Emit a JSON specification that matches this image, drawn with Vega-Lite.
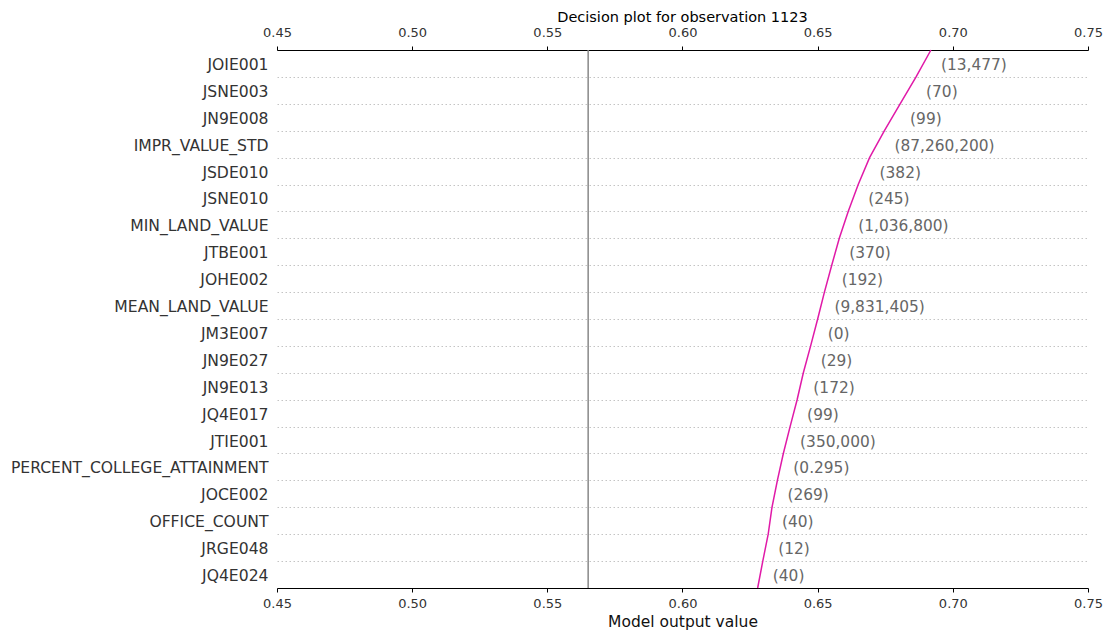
{
  "$schema": "https://vega.github.io/schema/vega-lite/v6.json",
  "width": 811,
  "height": 538,
  "autosize": {"type": "none"},
  "padding": {"left": 277, "top": 50, "right": 20, "bottom": 46},
  "background": "white",
  "config": {
    "view": {"stroke": null},
    "font": "DejaVu Sans",
    "axis": {"labelFont": "DejaVu Sans", "titleFont": "DejaVu Sans"}
  },
  "title": {
    "text": "Decision plot for observation 1123",
    "fontSize": 14.5,
    "fontWeight": "normal",
    "color": "#000000",
    "font": "DejaVu Sans",
    "offset": 1
  },
  "datasets": {
    "base": [{"base": 0.5651}],
    "path": [
      {"pos": 0, "value": 0.6278},
      {"pos": 1, "value": 0.6297},
      {"pos": 2, "value": 0.6317},
      {"pos": 3, "value": 0.6331},
      {"pos": 4, "value": 0.6351},
      {"pos": 5, "value": 0.6373},
      {"pos": 6, "value": 0.6398},
      {"pos": 7, "value": 0.6424},
      {"pos": 8, "value": 0.6447},
      {"pos": 9, "value": 0.6474},
      {"pos": 10, "value": 0.6500},
      {"pos": 11, "value": 0.6525},
      {"pos": 12, "value": 0.6552},
      {"pos": 13, "value": 0.6580},
      {"pos": 14, "value": 0.6613},
      {"pos": 15, "value": 0.6650},
      {"pos": 16, "value": 0.6692},
      {"pos": 17, "value": 0.6747},
      {"pos": 18, "value": 0.6805},
      {"pos": 19, "value": 0.6864},
      {"pos": 20, "value": 0.6919}
    ],
    "features": [
      {"pos": 20, "feature": "JOIE001", "label": "(13,477)", "value": 0.6919},
      {"pos": 19, "feature": "JSNE003", "label": "(70)", "value": 0.6864},
      {"pos": 18, "feature": "JN9E008", "label": "(99)", "value": 0.6805},
      {"pos": 17, "feature": "IMPR_VALUE_STD", "label": "(87,260,200)", "value": 0.6747},
      {"pos": 16, "feature": "JSDE010", "label": "(382)", "value": 0.6692},
      {"pos": 15, "feature": "JSNE010", "label": "(245)", "value": 0.6650},
      {"pos": 14, "feature": "MIN_LAND_VALUE", "label": "(1,036,800)", "value": 0.6613},
      {"pos": 13, "feature": "JTBE001", "label": "(370)", "value": 0.6580},
      {"pos": 12, "feature": "JOHE002", "label": "(192)", "value": 0.6552},
      {"pos": 11, "feature": "MEAN_LAND_VALUE", "label": "(9,831,405)", "value": 0.6525},
      {"pos": 10, "feature": "JM3E007", "label": "(0)", "value": 0.6500},
      {"pos": 9, "feature": "JN9E027", "label": "(29)", "value": 0.6474},
      {"pos": 8, "feature": "JN9E013", "label": "(172)", "value": 0.6447},
      {"pos": 7, "feature": "JQ4E017", "label": "(99)", "value": 0.6424},
      {"pos": 6, "feature": "JTIE001", "label": "(350,000)", "value": 0.6398},
      {"pos": 5, "feature": "PERCENT_COLLEGE_ATTAINMENT", "label": "(0.295)", "value": 0.6373},
      {"pos": 4, "feature": "JOCE002", "label": "(269)", "value": 0.6351},
      {"pos": 3, "feature": "OFFICE_COUNT", "label": "(40)", "value": 0.6331},
      {"pos": 2, "feature": "JRGE048", "label": "(12)", "value": 0.6317},
      {"pos": 1, "feature": "JQ4E024", "label": "(40)", "value": 0.6297}
    ]
  },
  "layer": [
    {
      "data": {"name": "features"},
      "mark": {"type": "text", "align": "left", "baseline": "middle", "dx": 10, "dy": 1.5, "fontSize": 15.4, "color": "#666666", "font": "DejaVu Sans"},
      "encoding": {
        "y": {
          "field": "feature",
          "type": "nominal",
          "sort": {"field": "pos", "order": "descending"},
          "scale": {"paddingInner": 0, "paddingOuter": 0},
          "axis": {
            "title": null,
            "domain": false,
            "ticks": false,
            "tickBand": "extent",
            "grid": true,
            "gridColor": "#c4c4c4",
            "gridDash": [1.5, 2.5],
            "gridWidth": 1,
            "labelFontSize": 15.6,
            "labelColor": "#333333",
            "labelPadding": 9,
            "labelOffset": 1,
            "labelLimit": 0
          }
        },
        "x": {
          "field": "value",
          "type": "quantitative",
          "scale": {"domain": [0.45, 0.75], "nice": false, "zero": false},
          "axis": {
            "orient": "bottom",
            "values": [0.45, 0.5, 0.55, 0.6, 0.65, 0.7, 0.75],
            "format": ".2f",
            "grid": false,
            "labelFlush": false,
            "domainColor": "#000000",
            "domainWidth": 1,
            "tickColor": "#000000",
            "tickSize": 4,
            "labelFontSize": 13,
            "labelColor": "#333333",
            "labelPadding": 5,
            "title": "Model output value",
            "titleFontSize": 15.5,
            "titleFontWeight": "normal",
            "titleColor": "#111111",
            "titlePadding": 4
          }
        },
        "text": {"field": "label"}
      }
    },
    {
      "data": {"name": "base"},
      "mark": {"type": "rule", "color": "#888888", "strokeWidth": 1.5},
      "encoding": {
        "x": {
          "field": "base",
          "type": "quantitative",
          "scale": {"domain": [0.45, 0.75], "nice": false, "zero": false},
          "axis": null
        }
      }
    },
    {
      "data": {"name": "path"},
      "mark": {"type": "line", "color": "#e01aa8", "strokeWidth": 1.5},
      "encoding": {
        "x": {
          "field": "value",
          "type": "quantitative",
          "scale": {"domain": [0.45, 0.75], "nice": false, "zero": false},
          "axis": {
            "orient": "top",
            "values": [0.45, 0.5, 0.55, 0.6, 0.65, 0.7, 0.75],
            "format": ".2f",
            "grid": false,
            "labelFlush": false,
            "domainColor": "#000000",
            "domainWidth": 1,
            "tickColor": "#000000",
            "tickSize": 4,
            "labelFontSize": 13,
            "labelColor": "#333333",
            "labelPadding": 7,
            "title": null
          }
        },
        "y": {
          "field": "pos",
          "type": "quantitative",
          "scale": {"domain": [0, 20], "nice": false, "zero": false},
          "axis": null
        },
        "order": {"field": "pos"}
      }
    }
  ],
  "resolve": {
    "scale": {"y": "independent"},
    "axis": {"x": "independent", "y": "independent"}
  }
}
